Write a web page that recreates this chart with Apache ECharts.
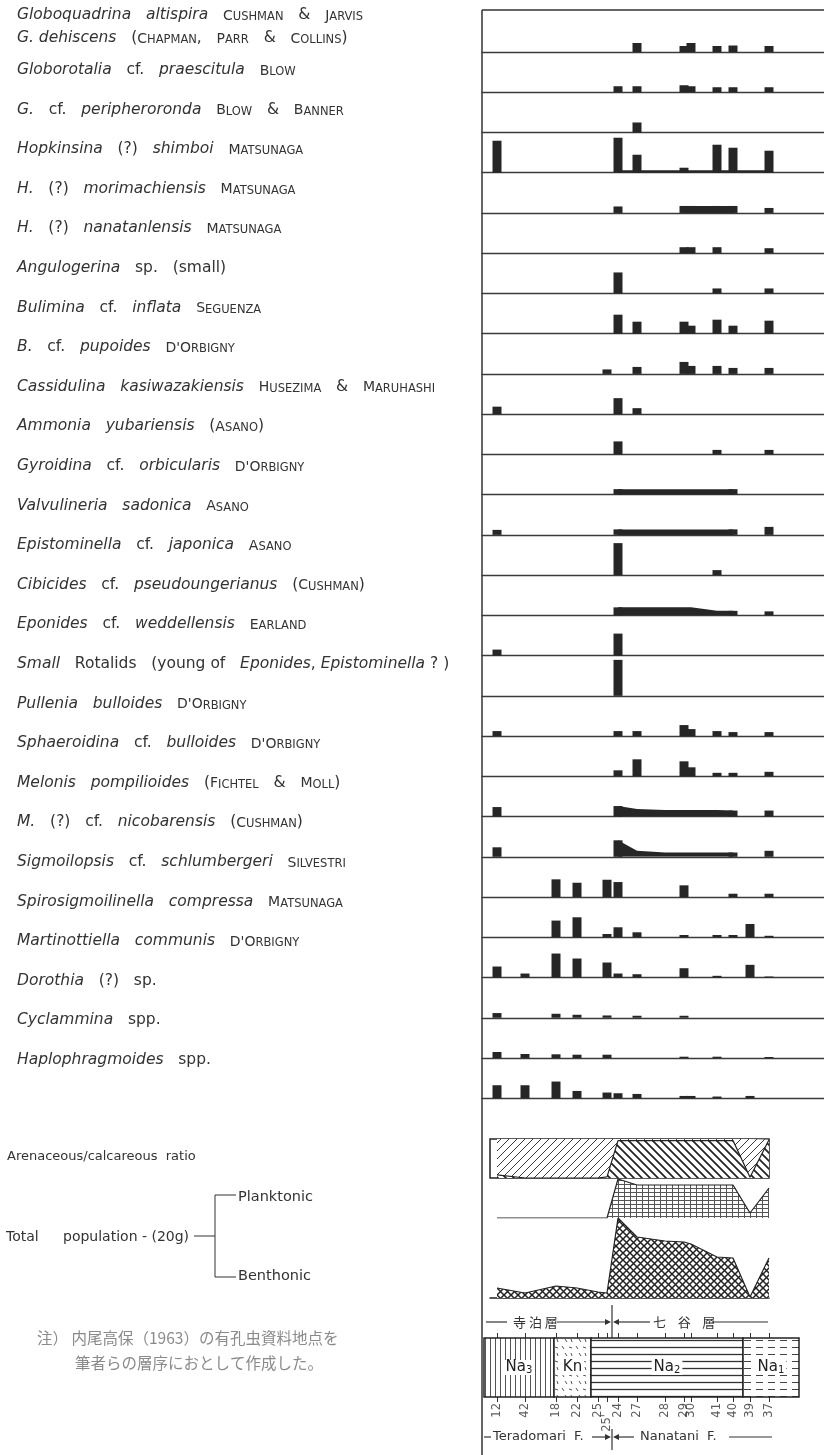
<!DOCTYPE html>
<html>
<head>
<meta charset="utf-8">
<script src="https://cdn.jsdelivr.net/npm/echarts/dist/echarts.min.js"></script>
<style>
html, body { margin: 0; padding: 0; background: #fff; }
#chart { width: 824px; height: 1455px; }
</style>
</head>
<body>
<div id="chart"></div>
<script>
// samples along the section, left = Teradomari F., right = Nanatani F.
var samples = ['12', '42', '18', '22', '25', "25'", '24', '27', '28', '29', '30', '41', '40', '39', '37'];
// distance of each sample along the section (same unit in every panel)
var samplePos = [15, 43, 74, 95, 116, 125, 136, 155, 183, 202, 209, 235, 251, 268, 287];

// abundance per sample (order of samples)
var globoquadrina = [0, 0, 0, 0, 0, 0, 0, 9, 0, 6, 9, 6, 6.5, 0, 6];
var globorotalia = [0, 0, 0, 0, 0, 0, 6, 6, 0, 7, 6, 5, 5, 0, 5];
var peripheroronda = [0, 0, 0, 0, 0, 0, 0, 10, 0, 0, 0, 0, 0, 0, 0];
var hopkinsinaShimboi = [32, 0, 0, 0, 0, 0, 35, 18, 0, 5, 0, 28, 25, 0, 22];
var hopkinsinaMorimachiensis = [0, 0, 0, 0, 0, 0, 6.5, 0, 0, 7, 7, 7, 7, 0, 5];
var hopkinsinaNanatanlensis = [0, 0, 0, 0, 0, 0, 0, 0, 0, 6, 6, 6, 0, 0, 5];
var angulogerina = [0, 0, 0, 0, 0, 0, 21, 0, 0, 0, 0, 5, 0, 0, 5];
var buliminaInflata = [0, 0, 0, 0, 0, 0, 19, 12, 0, 12, 8, 14, 8, 0, 13];
var buliminaPupoides = [0, 0, 0, 0, 0, 4.5, 0, 7, 0, 12, 8, 8, 6, 0, 6];
var cassidulina = [7.5, 0, 0, 0, 0, 0, 16, 6, 0, 0, 0, 0, 0, 0, 0];
var ammonia = [0, 0, 0, 0, 0, 0, 13, 0, 0, 0, 0, 4.5, 0, 0, 4.5];
var gyroidina = [0, 0, 0, 0, 0, 0, 5.5, 0, 0, 0, 0, 0, 5.5, 0, 0];
var valvulineria = [5, 0, 0, 0, 0, 0, 5.5, 0, 0, 0, 0, 0, 5.5, 0, 8];
var epistominella = [0, 0, 0, 0, 0, 0, 32, 0, 0, 0, 0, 5, 0, 0, 0];
var cibicides = [0, 0, 0, 0, 0, 0, 8, 0, 0, 0, 0, 0, 4.5, 0, 4];
var eponides = [6, 0, 0, 0, 0, 0, 22, 0, 0, 0, 0, 0, 0, 0, 0];
var smallRotalids = [0, 0, 0, 0, 0, 0, 36, 0, 0, 0, 0, 0, 0, 0, 0];
var pullenia = [5, 0, 0, 0, 0, 0, 5, 5, 0, 11, 7, 5, 4, 0, 4];
var sphaeroidina = [0, 0, 0, 0, 0, 0, 6, 17, 0, 15, 9, 3.5, 3.5, 0, 4.5];
var melonisPompilioides = [9.5, 0, 0, 0, 0, 0, 10.5, 0, 0, 0, 0, 0, 6, 0, 6];
var melonisNicobarensis = [9.5, 0, 0, 0, 0, 0, 16.5, 0, 0, 0, 0, 0, 4.3, 0, 6];
var sigmoilopsis = [0, 0, 17.7, 14.3, 0, 17.3, 15, 0, 0, 11.7, 0, 0, 3.3, 0, 3.3];
var spirosigmoilinella = [0, 0, 16.7, 20, 0, 3.3, 10, 5, 0, 2.3, 0, 2.3, 2.3, 13.3, 1.5];
var martinottiella = [11, 4, 24, 19, 0, 15, 4, 3.3, 0, 9.3, 0, 1.7, 0, 12.7, 1];
var dorothia = [4.7, 0, 4, 3, 0, 2.3, 0, 2, 0, 2, 0, 0, 0, 0, 0];
var cyclammina = [6, 4, 3.7, 3.3, 0, 3.3, 0, 0, 0, 1.3, 0, 1.3, 0, 0, 1];
var haplophragmoides = [13, 13, 16.7, 7.3, 0, 5.7, 5, 4.3, 0, 2.3, 2.3, 1.7, 0, 2.3, 0];

// continuous occurrences drawn as a band between samples (null = absent)
var n = null;
var shimboiBand = [n, n, n, n, n, n, 2.5, 2.5, 2.5, 2.5, 2.5, 2.5, 2.5, 2.5, 2.5];
var morimachiensisBand = [n, n, n, n, n, n, n, n, n, 7, 7, 7, 7, n, n];
var gyroidinaBand = [n, n, n, n, n, n, 5.5, 5.5, 5.5, 5.5, 5.5, 5.5, 5.5, n, n];
var valvulineriaBand = [n, n, n, n, n, n, 5.5, 5.5, 5.5, 5.5, 5.5, 5.5, 5.5, n, n];
var cibicidesBand = [n, n, n, n, n, n, 8, 8, 8, 8, 8, 4.5, 4.5, n, n];
var pompilioidesBand = [n, n, n, n, n, n, 10.5, 7.5, 6.5, 6.5, 6.5, 6.5, 6, n, n];
var nicobarensisBand = [n, n, n, n, n, n, 16.5, 6, 4.3, 4.3, 4.3, 4.3, 4.3, n, n];

// arenaceous / calcareous ratio (% calcareous, arenaceous is the rest)
var calcareousPct = [8, 0, 0, 0, 0, 3, 96, 96, 96, 96, 96, 96, 96, 2, 98];
// total population (20 g)
var planktonic = [0, 0, 0, 0, 0, 0, 39, 33, 33, 33, 33, 33, 33, 5, 30];
var benthonic = [10, 5, 12, 10, 6, 5, 80, 61, 57, 56, 54, 41, 40, 1, 40];

// lithologic units of the column
var unitNames = ['Na3', 'Kn', 'Na2', 'Na1'];
var unitStart = [2, 72, 109, 261];
var unitEnd = [72, 109, 261, 317];

// taxon labels: _italic_, ^Author^ in small capitals
var taxa = [
  '_Globoquadrina_  _altispira_  ^Cushman^  &  ^Jarvis^',
  '_G._ _dehiscens_  (^Chapman^,  ^Parr^  &  ^Collins^)',
  '_Globorotalia_  cf.  _praescitula_  ^Blow^',
  '_G._  cf.  _peripheroronda_  ^Blow^  &  ^Banner^',
  '_Hopkinsina_  (?)  _shimboi_  ^Matsunaga^',
  '_H._  (?)  _morimachiensis_  ^Matsunaga^',
  '_H._  (?)  _nanatanlensis_  ^Matsunaga^',
  '_Angulogerina_  sp.  (small)',
  '_Bulimina_  cf.  _inflata_  ^Seguenza^',
  "_B._  cf.  _pupoides_  ^D'Orbigny^",
  '_Cassidulina_  _kasiwazakiensis_  ^Husezima^  &  ^Maruhashi^',
  '_Ammonia_  _yubariensis_  (^Asano^)',
  "_Gyroidina_  cf.  _orbicularis_  ^D'Orbigny^",
  '_Valvulineria_  _sadonica_  ^Asano^',
  '_Epistominella_  cf.  _japonica_  ^Asano^',
  '_Cibicides_  cf.  _pseudoungerianus_  (^Cushman^)',
  '_Eponides_  cf.  _weddellensis_  ^Earland^',
  '_Small_  Rotalids  (young of  _Eponides_, _Epistominella_ ? )',
  "_Pullenia_  _bulloides_  ^D'Orbigny^",
  "_Sphaeroidina_  cf.  _bulloides_  ^D'Orbigny^",
  '_Melonis_  _pompilioides_  (^Fichtel^  &  ^Moll^)',
  '_M._  (?)  cf.  _nicobarensis_  (^Cushman^)',
  '_Sigmoilopsis_  cf.  _schlumbergeri_  ^Silvestri^',
  '_Spirosigmoilinella_  _compressa_  ^Matsunaga^',
  "_Martinottiella_  _communis_  ^D'Orbigny^",
  '_Dorothia_  (?)  sp.',
  '_Cyclammina_  spp.',
  '_Haplophragmoides_  spp.'
];

var rowBars = [globoquadrina, globorotalia, peripheroronda, hopkinsinaShimboi, hopkinsinaMorimachiensis,
  hopkinsinaNanatanlensis, angulogerina, buliminaInflata, buliminaPupoides, cassidulina, ammonia, gyroidina,
  valvulineria, epistominella, cibicides, eponides, smallRotalids, pullenia, sphaeroidina, melonisPompilioides,
  melonisNicobarensis, sigmoilopsis, spirosigmoilinella, martinottiella, dorothia, cyclammina, haplophragmoides];
var rowBands = {3: shimboiBand, 4: morimachiensisBand, 11: gyroidinaBand, 12: valvulineriaBand,
  14: cibicidesBand, 19: pompilioidesBand, 20: nicobarensisBand};

var INK = '#262626';
var TXT = '#333';
var FONT = 'DejaVu Sans';
var FRAME_X = 482;

function makePattern(w, h, lw, color, draw) {
  var c = document.createElement('canvas');
  c.width = w; c.height = h;
  var ctx = c.getContext('2d');
  ctx.fillStyle = '#fff';
  ctx.fillRect(0, 0, w, h);
  ctx.strokeStyle = color;
  ctx.lineWidth = lw;
  ctx.beginPath();
  draw(ctx, w, h);
  ctx.stroke();
  return {image: c, repeat: 'repeat'};
}
var hatchFwd = makePattern(8, 8, 1, '#3a3a3a', function (ctx, w, h) {
  ctx.moveTo(-1, h + 1); ctx.lineTo(w + 1, -1);
  ctx.moveTo(-1, 1); ctx.lineTo(1, -1);
  ctx.moveTo(w - 1, h + 1); ctx.lineTo(w + 1, h - 1);
});
var hatchBack = makePattern(8, 8, 1.7, '#222', function (ctx, w, h) {
  ctx.moveTo(-1, -1); ctx.lineTo(w + 1, h + 1);
  ctx.moveTo(w - 1, -1); ctx.lineTo(w + 1, 1);
  ctx.moveTo(-1, h - 1); ctx.lineTo(1, h + 1);
});
var gridPat = makePattern(6, 4, 1, '#555', function (ctx, w, h) {
  ctx.moveTo(0.5, 0); ctx.lineTo(0.5, h);
  ctx.moveTo(0, 0.5); ctx.lineTo(w, 0.5);
});
var crossPat = makePattern(7, 7, 1.5, '#222', function (ctx, w, h) {
  ctx.moveTo(-1, -1); ctx.lineTo(w + 1, h + 1);
  ctx.moveTo(-1, h + 1); ctx.lineTo(w + 1, -1);
});
var unitPatterns = [
  makePattern(5, 5, 1, '#555', function (ctx, w, h) { ctx.moveTo(0.5, 0); ctx.lineTo(0.5, h); }),
  makePattern(14, 14, 1, '#555', function (ctx) {
    ctx.moveTo(2, 2); ctx.lineTo(4, 5); ctx.moveTo(9, 3); ctx.lineTo(12, 4);
    ctx.moveTo(5, 9); ctx.lineTo(7, 12); ctx.moveTo(11, 9); ctx.lineTo(12, 12);
  }),
  makePattern(7, 7, 1.3, '#333', function (ctx, w) { ctx.moveTo(0, 3.5); ctx.lineTo(w, 3.5); }),
  makePattern(12, 7, 1, '#444', function (ctx) { ctx.moveTo(0, 3.5); ctx.lineTo(7, 3.5); })
];

function pairs(vals, keepZero) {
  var out = [];
  vals.forEach(function (v, i) {
    if (v !== null && (keepZero || v > 0)) out.push([samplePos[i], v]);
  });
  return out;
}

function toRich(src) {
  var out = '';
  src.replace(/ {2}/g, '   ').split(/(_[^_]*_|\^[^\^]*\^)/).forEach(function (t) {
    if (!t) return;
    if (t.charAt(0) === '_') {
      out += '{i|' + t.slice(1, -1) + '}';
    } else if (t.charAt(0) === '^') {
      var w = t.slice(1, -1), run = '', big = null;
      for (var k = 0; k < w.length; k++) {
        var ch = w.charAt(k);
        var isBig = !/[a-z]/.test(ch);
        if (big !== null && isBig !== big) {
          out += '{' + (big ? 'C' : 'c') + '|' + run + '}';
          run = '';
        }
        big = isBig;
        run += ch.toUpperCase();
      }
      if (run) out += '{' + (big ? 'C' : 'c') + '|' + run + '}';
    } else {
      out += '{r|' + t + '}';
    }
  });
  return out;
}

var labelRich = {
  i: {fontFamily: FONT, fontStyle: 'italic', fontSize: 15.5, fill: TXT, verticalAlign: 'bottom'},
  r: {fontFamily: FONT, fontSize: 15.5, fill: TXT, verticalAlign: 'bottom'},
  C: {fontFamily: FONT, fontSize: 14, fill: TXT, verticalAlign: 'bottom'},
  c: {fontFamily: FONT, fontSize: 11.5, fill: TXT, verticalAlign: 'bottom'}
};

var grids = [], xAxes = [], yAxes = [], series = [];
function addGrid(grid, x, y) {
  grids.push(grid);
  var gi = grids.length - 1;
  x.gridIndex = gi; y.gridIndex = gi;
  xAxes.push(x); yAxes.push(y);
  return {x: xAxes.length - 1, y: yAxes.length - 1};
}
function xSpan(x0, x1, extra) {
  var ax = {type: 'value', min: x0 - FRAME_X, max: x1 - FRAME_X, axisLine: {show: false},
    axisTick: {show: false}, axisLabel: {show: false}, splitLine: {show: false}};
  return Object.assign(ax, extra || {});
}
function yRange(max) {
  return {type: 'value', min: 0, max: max, show: false, splitLine: {show: false}};
}

// species rows
rowBars.forEach(function (vals, r) {
  var base = 52 + r * 40.24;
  var ix = addGrid({left: FRAME_X, width: 824 - FRAME_X, top: base - 38, height: 38},
    xSpan(FRAME_X, 824, {axisLine: {show: true, onZero: false, lineStyle: {color: '#3a3a3a', width: 1.3}}}),
    yRange(38));
  series.push({type: 'bar', xAxisIndex: ix.x, yAxisIndex: ix.y, barWidth: 9,
    itemStyle: {color: INK}, data: pairs(vals)});
  if (rowBands[r]) {
    series.push({type: 'line', xAxisIndex: ix.x, yAxisIndex: ix.y, symbol: 'none',
      lineStyle: {width: 0}, areaStyle: {color: INK, opacity: 1}, data: pairs(rowBands[r])});
  }
});

// arenaceous / calcareous ratio: calcareous below the line, arenaceous above it
var ir = addGrid({left: 490, width: 279, top: 1139, height: 39, show: true, borderColor: '#222', borderWidth: 1.5},
  xSpan(490, 769), yRange(100));
series.push({type: 'line', xAxisIndex: ir.x, yAxisIndex: ir.y, symbol: 'none', z: 2,
  lineStyle: {width: 0}, areaStyle: {origin: 'end', color: hatchFwd, opacity: 1},
  data: pairs(calcareousPct, true)});
series.push({type: 'line', xAxisIndex: ir.x, yAxisIndex: ir.y, symbol: 'none', z: 3,
  lineStyle: {color: '#222', width: 1.2}, areaStyle: {origin: 'start', color: hatchBack, opacity: 1},
  data: pairs(calcareousPct, true)});

// planktonic
var ip = addGrid({left: 490, width: 279, top: 1178, height: 40}, xSpan(490, 769), yRange(40));
series.push({type: 'line', xAxisIndex: ip.x, yAxisIndex: ip.y, symbol: 'none',
  lineStyle: {color: '#222', width: 1.2}, areaStyle: {color: gridPat, opacity: 1},
  data: pairs(planktonic, true)});

// benthonic
var ib = addGrid({left: 490, width: 279, top: 1218, height: 80},
  xSpan(490, 769, {axisLine: {show: true, onZero: false, lineStyle: {color: '#222', width: 1.5}}}), yRange(80));
series.push({type: 'line', xAxisIndex: ib.x, yAxisIndex: ib.y, symbol: 'none',
  lineStyle: {color: '#222', width: 1.2}, areaStyle: {color: crossPat, opacity: 1},
  data: pairs(benthonic, true)});

// lithologic column
var tickAxis = {axisTick: {show: true, customValues: samplePos, length: 5, lineStyle: {color: '#333', width: 1}}};
var is = addGrid({left: 484, width: 315, top: 1338, height: 59}, xSpan(484, 799, Object.assign({position: 'bottom'}, tickAxis)), yRange(1));
xAxes.push(Object.assign(xSpan(484, 799, tickAxis), {gridIndex: grids.length - 1, position: 'top'}));
var unitLabels = ['{b|Na}{s|3}', '{b|Kn}', '{b|Na}{s|2}', '{b|Na}{s|1}'];
series.push({
  type: 'custom', xAxisIndex: is.x, yAxisIndex: is.y,
  data: unitNames.map(function (nm, i) { return [unitStart[i], unitEnd[i]]; }),
  renderItem: function (params, api) {
    var a = api.coord([api.value(0), 1]);
    var b = api.coord([api.value(1), 0]);
    var i = params.dataIndex;
    return {type: 'group', children: [
      {type: 'rect', shape: {x: a[0], y: a[1], width: b[0] - a[0], height: b[1] - a[1]},
        style: {fill: unitPatterns[i], stroke: '#222', lineWidth: 1.5}},
      {type: 'text', x: (a[0] + b[0]) / 2, y: (a[1] + b[1]) / 2,
        style: {text: unitLabels[i], align: 'center', verticalAlign: 'middle', backgroundColor: '#fff', padding: [0, 2],
          rich: {b: {fontFamily: FONT, fontSize: 15, fill: '#222', verticalAlign: 'bottom'},
                 s: {fontFamily: FONT, fontSize: 10, fill: '#222', verticalAlign: 'bottom'}}}}
    ]};
  }
});

// sample numbers under the column
var il = addGrid({left: FRAME_X, width: 824 - FRAME_X, top: 1403, height: 20}, xSpan(FRAME_X, 824), yRange(1));
series.push({
  type: 'scatter', xAxisIndex: il.x, yAxisIndex: il.y, symbolSize: 1, itemStyle: {color: 'rgba(0,0,0,0)'},
  data: samples.map(function (s, i) {
    var d = {name: s, value: [samplePos[i], 1]};
    if (s === "25'") d.label = {offset: [-11, 0]};
    return d;
  }),
  label: {show: true, formatter: '{b}', rotate: 90, position: 'inside', align: 'right', verticalAlign: 'middle',
    fontFamily: FONT, fontSize: 11.5, color: TXT}
});

// fixed texts and frame
var graphic = [];
function line(x1, y1, x2, y2, w) {
  graphic.push({type: 'line', shape: {x1: x1, y1: y1, x2: x2, y2: y2}, style: {stroke: '#333', lineWidth: w || 1.2}, silent: true});
}
function head(x, y, dir) {
  graphic.push({type: 'polygon', shape: {points: [[x, y - 3], [x + 6 * dir, y], [x, y + 3]]}, style: {fill: '#333'}, silent: true});
}
function text(x, y, str, opt) {
  graphic.push({type: 'text', x: x, y: y, silent: true, style: Object.assign({text: str, verticalAlign: 'middle',
    fontFamily: FONT, fontSize: 13, fill: TXT}, opt || {})});
}

line(FRAME_X, 10, FRAME_X, 1455, 1.5);
line(FRAME_X, 10, 824, 10, 1.5);

taxa.forEach(function (t, k) {
  var y = k === 0 ? 15 : (k === 1 ? 38 : 70 + (k - 2) * 39.6);
  graphic.push({type: 'text', x: 17, y: y, silent: true,
    style: {text: toRich(t), rich: labelRich, verticalAlign: 'middle'}});
});

text(7, 1157, 'Arenaceous/calcareous  ratio');
text(6, 1237, 'Total', {fontSize: 14});
text(63, 1237, 'population - (20g)', {fontSize: 14});
text(238, 1197, 'Planktonic', {fontSize: 14.5});
text(238, 1276, 'Benthonic', {fontSize: 14.5});
line(194, 1236, 215, 1236, 1);
line(215, 1195, 215, 1277, 1);
line(215, 1195, 236, 1195, 1);
line(215, 1277, 236, 1277, 1);

text(37, 1338, '注） 内尾高保（1963）の有孔虫資料地点を', {fontFamily: 'Noto Sans CJK JP', fontSize: 15.5, fill: '#8a8a8a'});
text(75, 1363, '筆者らの層序におとして作成した。', {fontFamily: 'Noto Sans CJK JP', fontSize: 15.5, fill: '#8a8a8a'});

// formation headers
line(486, 1322, 507, 1322);
text(513, 1322, '寺 泊 層', {fontFamily: 'Noto Sans CJK JP', fontSize: 13});
line(557, 1322, 606, 1322);
head(605, 1322, 1);
line(612, 1305, 612, 1338, 1.2);
head(619, 1322, -1);
line(619, 1322, 650, 1322);
text(653, 1322, '七    谷    層', {fontFamily: 'Noto Sans CJK JP', fontSize: 13});
line(712, 1322, 768, 1322);

line(484, 1437, 491, 1437);
text(493, 1437, 'Teradomari  F.', {fontSize: 13});
line(592, 1437, 606, 1437);
head(605, 1437, 1);
line(612, 1429, 612, 1450, 1.2);
head(619, 1437, -1);
line(619, 1437, 634, 1437);
text(640, 1437, 'Nanatani  F.', {fontSize: 13});
line(729, 1437, 772, 1437);

var chart = echarts.init(document.getElementById('chart'));
chart.setOption({
  animation: false,
  backgroundColor: '#fff',
  grid: grids,
  xAxis: xAxes,
  yAxis: yAxes,
  series: series,
  graphic: graphic
});
window.addEventListener('resize', function () { chart.resize(); });
</script>
</body>
</html>
